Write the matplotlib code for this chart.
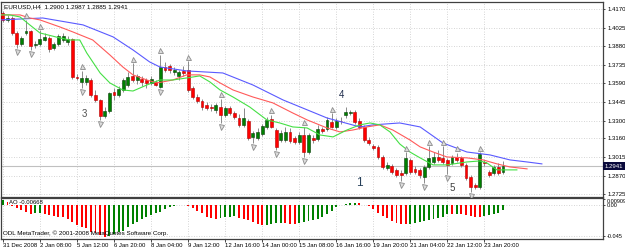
import matplotlib
matplotlib.use("Agg")
import matplotlib.pyplot as plt
import matplotlib.transforms as mtransforms
import numpy as np

plt.rcParams['font.family'] = ['Liberation Sans Narrow', 'Liberation Sans', 'DejaVu Sans']

# EURUSD H4 candles
opens = [1.4141, 1.4087, 1.4102, 1.3985, 1.3899, 1.3985, 1.4001, 1.3891, 1.3899, 1.3930,
         1.3946, 1.3868, 1.3899, 1.3930, 1.3915, 1.3938, 1.3641, 1.3602, 1.3602, 1.3617,
         1.3500, 1.3461, 1.3336, 1.3375, 1.3524, 1.3500, 1.3539, 1.3578, 1.3649, 1.3617,
         1.3625, 1.3617, 1.3594, 1.3602, 1.3563, 1.3719, 1.3727, 1.3680, 1.3649, 1.3688,
         1.3696, 1.3555, 1.3484, 1.3453, 1.3422, 1.3406, 1.3383, 1.3406, 1.3344, 1.3398,
         1.3359, 1.3320, 1.3266, 1.3297, 1.3172, 1.3164, 1.3195, 1.3250, 1.3312, 1.3226,
         1.3148, 1.3148, 1.3211, 1.3164, 1.3133, 1.3187, 1.3054, 1.3164, 1.3156, 1.3234,
         1.3234, 1.3289, 1.3250, 1.3297, 1.3344, 1.3359, 1.3367, 1.3297, 1.3250, 1.3148,
         1.3101, 1.3094, 1.3015, 1.2929, 1.2945, 1.2914, 1.2890, 1.2890, 1.2992, 1.2922,
         1.2914, 1.2859, 1.2937, 1.2976, 1.3015, 1.3008, 1.2992, 1.2969, 1.3015, 1.3008,
         1.2953, 1.2859, 1.2796, 1.2781, 1.2976, 1.2898, 1.2890, 1.2937, 1.2900]
highs = [1.4157, 1.4126, 1.4118, 1.4001, 1.3961, 1.4087, 1.4008, 1.3922, 1.4008, 1.3985,
         1.3961, 1.3915, 1.3977, 1.3985, 1.3961, 1.3946, 1.3664, 1.3688, 1.3657, 1.3633,
         1.3539, 1.3469, 1.3406, 1.3524, 1.3555, 1.3570, 1.3633, 1.3680, 1.3750, 1.3664,
         1.3649, 1.3633, 1.3649, 1.3617, 1.3813, 1.3758, 1.3742, 1.3719, 1.3696, 1.3727,
         1.3766, 1.3570, 1.3508, 1.3469, 1.3445, 1.3430, 1.3438, 1.3469, 1.3414, 1.3414,
         1.3375, 1.3352, 1.3398, 1.3312, 1.3219, 1.3242, 1.3273, 1.3328, 1.3344, 1.3242,
         1.3226, 1.3250, 1.3242, 1.3180, 1.3211, 1.3250, 1.3203, 1.3187, 1.3266, 1.3250,
         1.3328, 1.3359, 1.3320, 1.3328, 1.3406, 1.3383, 1.3383, 1.3320, 1.3266, 1.3172,
         1.3117, 1.3109, 1.3031, 1.2976, 1.2961, 1.2929, 1.2914, 1.3054, 1.3008, 1.2945,
         1.2929, 1.2953, 1.3101, 1.3054, 1.3070, 1.3101, 1.3008, 1.3031, 1.3047, 1.3023,
         1.2969, 1.2875, 1.2812, 1.3054, 1.2992, 1.2914, 1.2953, 1.2969, 1.2987]
lows = [1.4071, 1.4071, 1.3969, 1.3868, 1.3883, 1.3969, 1.3852, 1.3868, 1.3883, 1.3922,
        1.3836, 1.3852, 1.3883, 1.3915, 1.3891, 1.3625, 1.3617, 1.3555, 1.3578, 1.3484,
        1.3445, 1.3305, 1.3320, 1.3359, 1.3461, 1.3484, 1.3524, 1.3563, 1.3602, 1.3586,
        1.3570, 1.3555, 1.3578, 1.3570, 1.3555, 1.3680, 1.3672, 1.3657, 1.3617, 1.3649,
        1.3524, 1.3469, 1.3438, 1.3383, 1.3383, 1.3375, 1.3359, 1.3281, 1.3328, 1.3344,
        1.3312, 1.3250, 1.3250, 1.3148, 1.3125, 1.3148, 1.3180, 1.3234, 1.3242, 1.3070,
        1.3133, 1.3133, 1.3125, 1.3117, 1.3117, 1.3015, 1.3039, 1.3125, 1.3140, 1.3203,
        1.3219, 1.3242, 1.3234, 1.3273, 1.3320, 1.3344, 1.3273, 1.3234, 1.3133, 1.3109,
        1.3070, 1.3000, 1.2922, 1.2914, 1.2883, 1.2859, 1.2828, 1.2875, 1.2883, 1.2883,
        1.2851, 1.2812, 1.2922, 1.2961, 1.2976, 1.2961, 1.2883, 1.2953, 1.2976, 1.2937,
        1.2836, 1.2742, 1.2765, 1.2765, 1.2945, 1.2859, 1.2875, 1.2875, 1.2885]
closes = [1.4087, 1.4102, 1.3985, 1.3899, 1.3946, 1.4001, 1.3883, 1.3899, 1.3938, 1.3954,
          1.3860, 1.3899, 1.3961, 1.3961, 1.3938, 1.3641, 1.3633, 1.3633, 1.3633, 1.3500,
          1.3461, 1.3336, 1.3375, 1.3516, 1.3500, 1.3547, 1.3617, 1.3641, 1.3617, 1.3649,
          1.3602, 1.3594, 1.3625, 1.3578, 1.3719, 1.3696, 1.3696, 1.3696, 1.3680, 1.3672,
          1.3539, 1.3484, 1.3453, 1.3406, 1.3398, 1.3398, 1.3422, 1.3344, 1.3398, 1.3359,
          1.3328, 1.3266, 1.3320, 1.3164, 1.3203, 1.3211, 1.3258, 1.3305, 1.3250, 1.3094,
          1.3203, 1.3211, 1.3140, 1.3133, 1.3187, 1.3054, 1.3187, 1.3148, 1.3234, 1.3219,
          1.3305, 1.3250, 1.3297, 1.3293, 1.3367, 1.3367, 1.3289, 1.3250, 1.3148, 1.3125,
          1.3086, 1.3015, 1.2937, 1.2953, 1.2898, 1.2875, 1.2875, 1.3008, 1.2898, 1.2898,
          1.2875, 1.2937, 1.3008, 1.3015, 1.2992, 1.2976, 1.2953, 1.3015, 1.2992, 1.2953,
          1.2851, 1.2781, 1.2781, 1.3039, 1.2969, 1.2875, 1.2937, 1.2890, 1.2941]

# Alligator lines (jaw blue, teeth red, lips green), sampled along the drawn curves
jaw_x = [-0.6, 8.6, 17.3, 23.8, 28.1, 31.7, 33.9, 39.7, 47.5, 54.0, 60.5, 70.0, 77.1, 79.9,
         85.7, 90.1, 95.0, 100.2, 105.2, 109.5, 113.2, 116.4]
jaw_y = [1.4087, 1.4102, 1.4048, 1.3954, 1.3852, 1.3758, 1.3719, 1.3688, 1.3672, 1.3578,
         1.3461, 1.3320, 1.3250, 1.3266, 1.3281, 1.3250, 1.3125, 1.3054, 1.3031, 1.2992,
         1.2976, 1.2961]
teeth_x = [-0.6, 3.7, 5.8, 8.0, 12.3, 15.1, 19.4, 23.1, 25.9, 28.1, 31.1, 33.3, 36.7, 39.7,
           42.5, 44.7, 46.9, 49.7, 54.0, 58.3, 62.6, 65.7, 70.0, 72.8, 75.6, 78.6, 81.4,
           84.2, 87.9, 90.1, 92.9, 95.9, 100.2, 103.7, 106.7, 109.5, 113.2]
teeth_y = [1.4126, 1.4126, 1.4102, 1.4087, 1.4032, 1.3993, 1.3930, 1.3813, 1.3719, 1.3657,
           1.3617, 1.3594, 1.3617, 1.3657, 1.3657, 1.3641, 1.3594, 1.3539, 1.3484, 1.3438,
           1.3359, 1.3305, 1.3242, 1.3211, 1.3226, 1.3250, 1.3266, 1.3226, 1.3148, 1.3094,
           1.3054, 1.3015, 1.3008, 1.2992, 1.2961, 1.2937, 1.2922]
lips_x = [-0.6, 1.5, 3.7, 5.8, 8.0, 12.3, 14.5, 16.6, 18.1, 21.0, 23.1, 25.9, 28.1, 31.1,
          33.9, 36.7, 39.7, 42.5, 44.7, 46.9, 49.7, 53.3, 57.0, 59.8, 62.6, 65.7, 68.5,
          71.3, 74.3, 77.1, 79.3, 81.4, 83.6, 85.7, 87.9, 90.1, 92.9, 95.9, 100.2, 103.0,
          104.5, 106.7, 109.5, 111.0]
lips_y = [1.4126, 1.4126, 1.4110, 1.4048, 1.3985, 1.3946, 1.3930, 1.3930, 1.3829, 1.3672,
          1.3594, 1.3539, 1.3531, 1.3578, 1.3617, 1.3617, 1.3633, 1.3649, 1.3602, 1.3539,
          1.3484, 1.3406, 1.3305, 1.3281, 1.3250, 1.3242, 1.3187, 1.3172, 1.3226, 1.3266,
          1.3281, 1.3266, 1.3211, 1.3117, 1.3054, 1.3008, 1.2953, 1.2953, 1.2976, 1.2984,
          1.2969, 1.2914, 1.2914, 1.2914]

# fractal bars
frac_up = [5, 8, 17, 28, 34, 40, 47, 58, 65, 71, 87, 92, 95, 98, 103]
frac_dn = [3, 6, 17, 21, 34, 47, 54, 59, 65, 86, 91, 96, 101]

# Awesome Oscillator, x0.001
ao = [8, 4, -1, -4, -7, -10, -13, -12, -11, -13, -14, -16, -17, -18, -20, -24, -29, -32,
      -34, -39, -41, -44, -46, -45, -42, -39, -37, -32, -27, -24, -20, -17, -15, -12, -10,
      -6, -3, -1.5, -0.5, 0.3, -1.5, -5, -8, -12, -17, -19.5, -20, -19.5, -17.5, -17,
      -16.5, -19, -20, -22, -25, -28, -29, -28.5, -27, -26.5, -25.5, -26, -27, -27.5, -26,
      -24.5, -23, -22, -21, -18, -13, -8, -2.5, 0.5, 1.5, 2.5, 3.5, 2.5, 0.5, -1.5, -6,
      -11, -16, -19.5, -23, -26, -27, -28, -27.5, -26.5, -25, -23.5, -22, -21, -19.5, -17,
      -13, -13.5, -12.5, -13.5, -14.5, -16, -17, -17.5, -16, -14.5, -13, -11, -6.68]

# wave marks written on the chart
wave_txt = ['3', '4', '1', '5']
wave_x = [17.7, 73.2, 76.9, 97.0]
wave_y = [1.3352, 1.3500, 1.2812, 1.2773]
wave_col = ['#505050', '#1c2a4a', '#27405a', '#404040']
wave_fs = [7, 7, 8.5, 7]

price_ticks = [1.4170, 1.4025, 1.3880, 1.3735, 1.3590, 1.3445, 1.3300, 1.3160, 1.3015,
               1.2870, 1.2725]
ao_ticks = [0.00909, 0.0, -0.045]
time_pos = [0, 8, 16, 24, 32, 40, 48, 56, 64, 72, 80, 88, 96, 104]
time_lbl = ['31 Dec 2008', '2 Jan 08:00', '5 Jan 12:00', '6 Jan 20:00', '8 Jan 04:00',
            '9 Jan 12:00', '12 Jan 16:00', '14 Jan 00:00', '15 Jan 08:00', '16 Jan 16:00',
            '19 Jan 20:00', '21 Jan 04:00', '22 Jan 12:00', '23 Jan 20:00']
bid = 1.2941

o = np.array(opens)
h = np.array(highs)
l = np.array(lows)
c = np.array(closes)
idx = np.arange(len(c))

fig = plt.figure(figsize=(6.25, 2.49), dpi=100)
fig.patch.set_facecolor('white')
ax = fig.add_axes([1.5/625, 52/249, 601.5/625, 195/249])
ax2 = fig.add_axes([1.5/625, 10/249, 601.5/625, 41/249])

grid_kw = dict(color='#c8c8c8', lw=0.6, ls=(0, (1, 2)))
for a in (ax, ax2):
    a.set_xlim(-0.3, 129.6)
    for s in a.spines.values():
        s.set_color('#404040')
        s.set_linewidth(0.9)
    for t in time_pos:
        a.axvline(t, zorder=0, **grid_kw)
    a.yaxis.tick_right()
    a.tick_params(axis='y', length=1.5, width=0.5, pad=1.5, labelsize=4.3, colors='black')

# main panel
ax.set_ylim(1.2702, 1.4227)
ax.set_yticks(price_ticks)
ax.set_yticklabels(['%.4f' % p for p in price_ticks])
ax.set_xticks([])
for p in price_ticks:
    ax.axhline(p, zorder=0, **grid_kw)
ax.axhline(bid, color='#c0c0c0', lw=0.8, zorder=1)

up = c >= o
ax.vlines(idx, l, h, color='#8a8a8a', lw=0.7, zorder=2)
body = np.maximum(np.abs(c - o), 0.00012)
ax.bar(idx[up], body[up], bottom=np.minimum(o, c)[up], width=0.62,
       color='#008000', edgecolor='#0a3a0a', lw=0.4, zorder=3)
ax.bar(idx[~up], body[~up], bottom=np.minimum(o, c)[~up], width=0.62,
       color='#ff0000', edgecolor='#b00000', lw=0.4, zorder=3)

ax.plot(jaw_x, jaw_y, color='#5a5aff', lw=0.8, zorder=4)
ax.plot(teeth_x, teeth_y, color='#ff5a5a', lw=0.8, zorder=4)
ax.plot(lips_x, lips_y, color='#45e045', lw=0.8, zorder=4)

tr_up = mtransforms.offset_copy(ax.transData, fig=fig, y=3.2, units='points')
tr_dn = mtransforms.offset_copy(ax.transData, fig=fig, y=-3.2, units='points')
ax.plot(frac_up, h[frac_up], ls='none', marker='^', ms=3.6, mfc='#dcdcdc',
        mec='#8c8c8c', mew=0.6, transform=tr_up, zorder=5)
ax.plot(frac_dn, l[frac_dn], ls='none', marker='v', ms=3.6, mfc='#dcdcdc',
        mec='#8c8c8c', mew=0.6, transform=tr_dn, zorder=5)

for t, x, y, col, fs in zip(wave_txt, wave_x, wave_y, wave_col, wave_fs):
    ax.text(x, y, t, color=col, fontsize=fs, ha='center', va='center',
            family=['Liberation Sans', 'DejaVu Sans'], zorder=6)

ax.text(0.004, 0.974, 'EURUSD,H4  1.2900 1.2987 1.2885 1.2941', transform=ax.transAxes,
        fontsize=4.6, ha='left', va='center', color='black')
bt = mtransforms.blended_transform_factory(ax.transAxes, ax.transData)
ax.text(1.003, bid, '%.4f' % bid, transform=bt, fontsize=4.3, color='white',
        ha='left', va='center',
        bbox=dict(boxstyle='square,pad=0.25', fc='#0a0a3c', ec='none'))

# AO panel
ax2.set_ylim(-0.0493, 0.0102)
ax2.set_yticks(ao_ticks)
ax2.set_yticklabels(['0.00909', '0.00', '-0.045'])
ax2.tick_params(axis='y', pad=1.0, labelsize=4.0)
ax2.get_yticklabels()[0].set_va('top')
for p in ao_ticks[1:]:
    ax2.axhline(p, zorder=0, **grid_kw)
aov = np.array(ao) / 1000.0
cols = ['#008000'] + ['#008000' if aov[i] > aov[i - 1] else '#ff0000' for i in range(1, len(aov))]
ax2.bar(np.arange(len(aov)), aov, width=0.42, color=cols, lw=0, zorder=3)
ax2.text(0.012, 0.88, 'AO -0.00668', transform=ax2.transAxes, fontsize=4.3,
         ha='left', va='center', color='black', zorder=6)
ax2.text(0.003, 0.15, 'ODL MetaTrader, \u00a9 2001-2008 MetaQuotes Software Corp.',
         transform=ax2.transAxes, fontsize=4.5, ha='left', va='center', color='black', zorder=6)
ax2.set_xticks(time_pos)
ax2.set_xticklabels(time_lbl)
ax2.tick_params(axis='x', length=2, width=0.5, pad=1.2, labelsize=4.3)
for lab in ax2.get_xticklabels():
    lab.set_ha('left')

fig.savefig('out.png', dpi=100, facecolor='white')
